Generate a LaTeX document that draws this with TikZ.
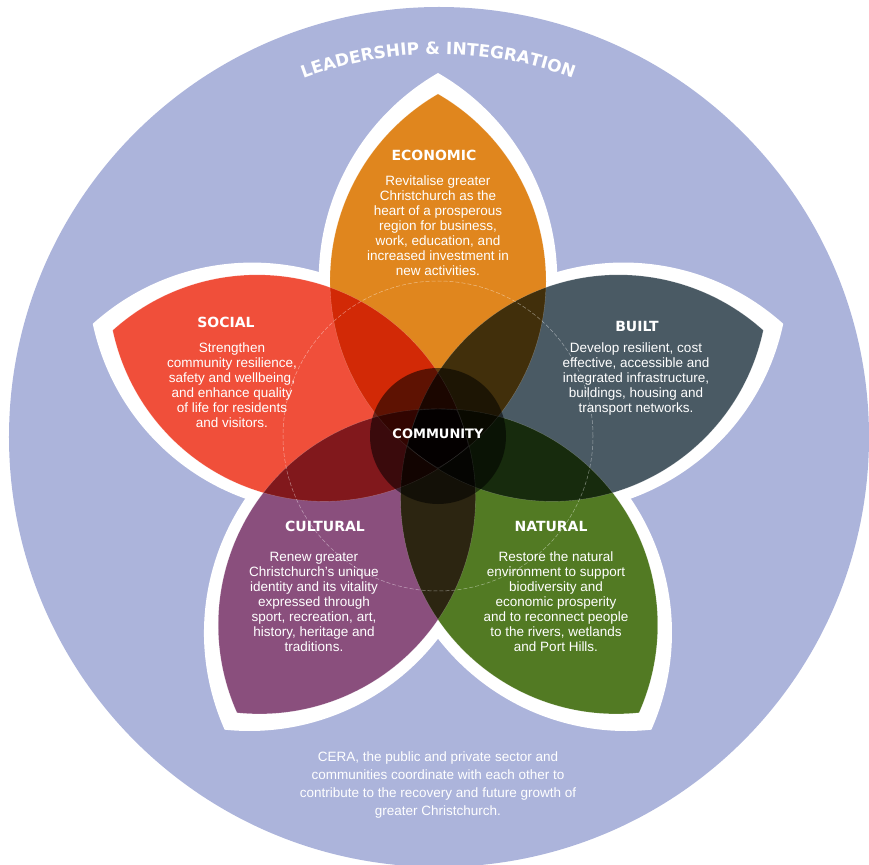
\documentclass[tikz,border=0pt]{standalone}
\usepackage{fontspec}
\setmainfont{Liberation Sans}
\newfontfamily\headfont{DejaVu Sans}
\usetikzlibrary{decorations.text}
\definecolor{lavender}{HTML}{ACB4DB}
\definecolor{econ}{HTML}{E0861E}
\definecolor{built}{HTML}{4A5A64}
\definecolor{natural}{HTML}{527A23}
\definecolor{cultural}{HTML}{8A4F7D}
\definecolor{social}{HTML}{F04F3A}
% lens between (#1,0) and (#2,0), two 120 degree arcs
\newcommand{\petalpath}[2]{(#1,0) arc[start angle=150,end angle=30,radius={((#2)-(#1))/sqrt(3)}] arc[start angle=-30,end angle=-150,radius={((#2)-(#1))/sqrt(3)}] -- cycle}
\begin{document}
\begin{tikzpicture}[x=1pt,y=1pt,
  head/.style={text=white, inner sep=0pt, font=\headfont\bfseries\fontsize{14}{16}\selectfont},
  body/.style={text=white, inner sep=0pt, align=center, font=\fontsize{13.5}{15}\selectfont}]
\useasboundingbox (-438,-428) rectangle (431,436);
\fill[lavender] (1,-1) circle (430);

% white rims behind the petals
\foreach \ang in {90,18,-54,-126,162}
  \fill[white, rotate=\ang] \petalpath{-50}{363};

\begin{scope}[blend mode=multiply]
\foreach \ang/\col in {90/econ,18/built,-54/natural,-126/cultural,162/social}
  \fill[\col, rotate=\ang] \petalpath{-32}{342};
\end{scope}
\foreach \ang in {90,18,-54,-126,162}
  \draw[white, opacity=.25, line width=.4pt, rotate=\ang] \petalpath{-32}{342};

\fill[black, opacity=.55] (0,0) circle (68);
\draw[white, opacity=.45, line width=.5pt, dash pattern=on 4pt off 2pt] (0,0) circle (155);

\path[decorate, decoration={text along path, text color=white, text align=center,
  text={|\headfont\bfseries\fontsize{16.9}{20}\selectfont|LEADERSHIP {\&} INTEGRATION}}]
  (130:382) arc[start angle=130, end angle=50, radius=382];

\node[head] (economic) at (-4,281) {ECONOMIC};
\node[body] (economic text) at (0,210) {Revitalise greater\\Christchurch as the\\heart of a prosperous\\region for business,\\work, education, and\\increased investment in\\new activities.};

\node[head] (social) at (-212,114) {SOCIAL};
\node[body] (social text) at (-206,51) {Strengthen\\community resilience,\\safety and wellbeing,\\and enhance quality\\of life for residents\\and visitors.};

\node[head] (built) at (199,110) {BUILT};
\node[body] (built text) at (198,57) {Develop resilient, cost\\effective, accessible and\\integrated infrastructure,\\buildings, housing and\\transport networks.};

\node[head] (cultural) at (-113,-90) {CULTURAL};
\node[body] (cultural text) at (-124,-166) {Renew greater\\Christchurch’s unique\\identity and its vitality\\expressed through\\sport, recreation, art,\\history, heritage and\\traditions.};

\node[head] (natural) at (113,-90) {NATURAL};
\node[body] (natural text) at (118,-166) {Restore the natural\\environment to support\\biodiversity and\\economic prosperity\\and to reconnect people\\to the rivers, wetlands\\and Port Hills.};

\node[head, font=\headfont\bfseries\fontsize{13}{15}\selectfont] (community) at (0,2) {COMMUNITY};

\node[body, font=\fontsize{13.5}{17.7}\selectfont] (leadership text) at (0,-349) {CERA, the public and private sector and\\communities coordinate with each other to\\contribute to the recovery and future growth of\\greater Christchurch.};
\end{tikzpicture}
\end{document}
